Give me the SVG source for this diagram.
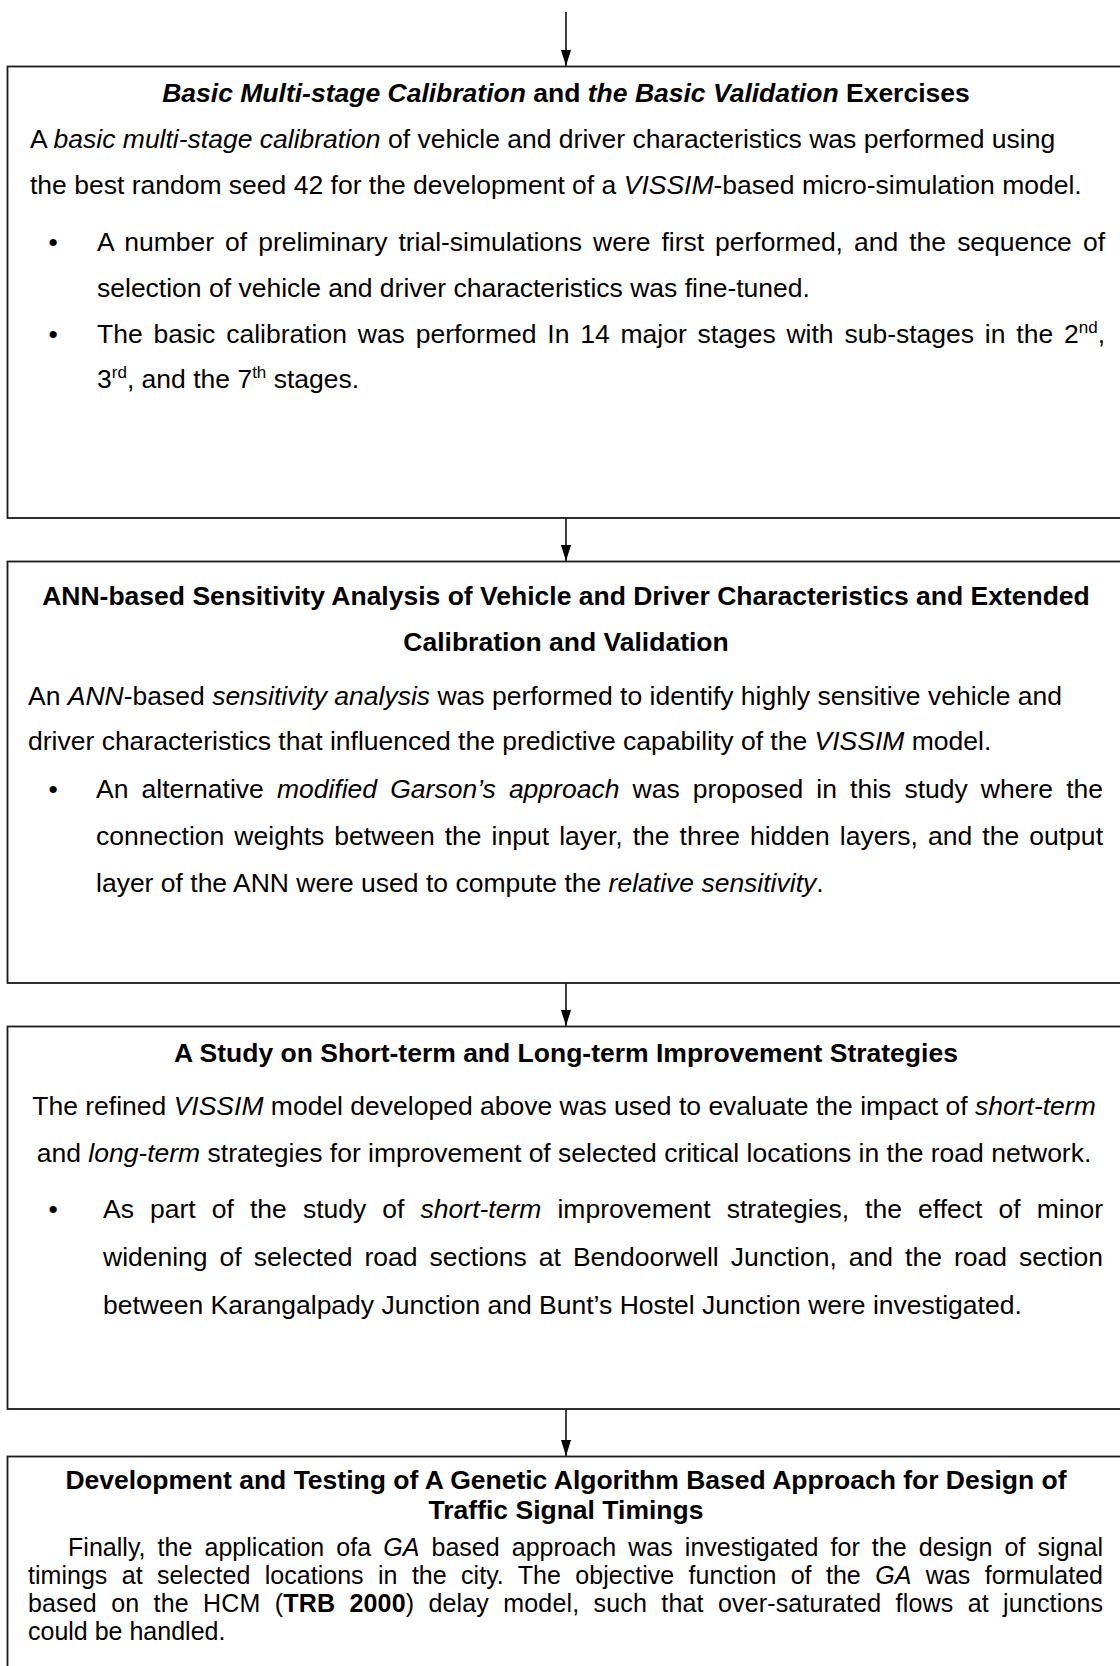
<svg xmlns="http://www.w3.org/2000/svg" width="1120" height="1666" viewBox="0 0 1120 1666">
<style>
text{font-family:"Liberation Sans",Arial,sans-serif;font-size:26.5px;fill:#000}
.t{font-weight:bold;text-anchor:middle}
.c{text-anchor:middle}
.s{font-size:25px}
.i{font-style:italic}
.b{font-weight:bold}
.sup{font-size:17px}
.box{fill:#fff;stroke:#1a1a1a;stroke-width:1.8}
.ln{stroke:#000;stroke-width:1.5;fill:none}
</style>
<defs>
<marker id="ah" viewBox="0 0 16 10" refX="16" refY="5" markerWidth="16" markerHeight="10" orient="auto" markerUnits="userSpaceOnUse"><path d="M0,0 L16,5 L0,10 z" fill="#000"/></marker>
</defs>
<rect width="1120" height="1666" fill="#fff"/>
<g id="connectors">
<line class="ln" x1="566" y1="12" x2="566" y2="66" marker-end="url(#ah)"/>
<line class="ln" x1="566" y1="518" x2="566" y2="561" marker-end="url(#ah)"/>
<line class="ln" x1="566" y1="983" x2="566" y2="1026" marker-end="url(#ah)"/>
<line class="ln" x1="566" y1="1409" x2="566" y2="1456" marker-end="url(#ah)"/>
</g>
<g id="box1">
<rect class="box" x="7.5" y="66.5" width="1130" height="451.5"/>
<text class="t" x="566" y="101.7"><tspan class="i">Basic Multi-stage Calibration</tspan> and <tspan class="i">the Basic Validation</tspan> Exercises</text>
<text x="30" y="147.7">A <tspan class="i">basic multi-stage calibration</tspan> of vehicle and driver characteristics was performed using</text>
<text x="30" y="194">the best random seed 42 for the development of a <tspan class="i">VISSIM</tspan>-based micro-simulation model.</text>
<text x="48.5" y="251">•</text>
<text x="97" y="251" word-spacing="3.77" textLength="1008" lengthAdjust="spacing">A number of preliminary trial-simulations were first performed, and the sequence of</text>
<text x="97" y="297">selection of vehicle and driver characteristics was fine-tuned.</text>
<text x="48.5" y="343">•</text>
<text x="97" y="343" word-spacing="3.46" textLength="1008" lengthAdjust="spacing">The basic calibration was performed In 14 major stages with sub-stages in the 2<tspan class="sup" dy="-10">nd</tspan><tspan dy="10">,</tspan></text>
<text x="97" y="388">3<tspan class="sup" dy="-10">rd</tspan><tspan dy="10">, and the 7</tspan><tspan class="sup" dy="-10">th</tspan><tspan dy="10"> stages.</tspan></text>
</g>
<g id="box2">
<rect class="box" x="7.5" y="561.5" width="1130" height="421.5"/>
<text class="t" x="566" y="605">ANN-based Sensitivity Analysis of Vehicle and Driver Characteristics and Extended</text>
<text class="t" x="566" y="651">Calibration and Validation</text>
<text x="28" y="705">An <tspan class="i">ANN</tspan>-based <tspan class="i">sensitivity analysis</tspan> was performed to identify highly sensitive vehicle and</text>
<text x="28" y="750">driver characteristics that influenced the predictive capability of the <tspan class="i">VISSIM</tspan> model.</text>
<text x="48.5" y="798">•</text>
<text x="96" y="798" word-spacing="5.72" textLength="1007" lengthAdjust="spacing">An alternative <tspan class="i">modified Garson’s approach</tspan> was proposed in this study where the</text>
<text x="96" y="845" word-spacing="2.65" textLength="1007" lengthAdjust="spacing">connection weights between the input layer, the three hidden layers, and the output</text>
<text x="96" y="892">layer of the ANN were used to compute the <tspan class="i">relative sensitivity</tspan>.</text>
</g>
<g id="box3">
<rect class="box" x="7.5" y="1026.5" width="1130" height="382.5"/>
<text class="t" x="566" y="1062">A Study on Short-term and Long-term Improvement Strategies</text>
<text class="c" x="564" y="1115">The refined <tspan class="i">VISSIM</tspan> model developed above was used to evaluate the impact of <tspan class="i">short-term</tspan></text>
<text class="c" x="564" y="1162">and <tspan class="i">long-term</tspan> strategies for improvement of selected critical locations in the road network.</text>
<text x="48.5" y="1218">•</text>
<text x="103" y="1218" word-spacing="8.71" textLength="1000" lengthAdjust="spacing">As part of the study of <tspan class="i">short-term</tspan> improvement strategies, the effect of minor</text>
<text x="103" y="1266" word-spacing="4.67" textLength="1000" lengthAdjust="spacing">widening of selected road sections at Bendoorwell Junction, and the road section</text>
<text x="103" y="1314">between Karangalpady Junction and Bunt’s Hostel Junction were investigated.</text>
</g>
<g id="box4">
<rect class="box" x="7.5" y="1456.5" width="1130" height="230"/>
<text class="t" x="566" y="1489">Development and Testing of A Genetic Algorithm Based Approach for Design of</text>
<text class="t" x="566" y="1519">Traffic Signal Timings</text>
<text class="s" x="68" y="1556" word-spacing="5.1" textLength="1035" lengthAdjust="spacing">Finally, the application ofa <tspan class="i">GA</tspan> based approach was investigated for the design of signal</text>
<text class="s" x="28" y="1584" word-spacing="7.4" textLength="1075" lengthAdjust="spacing">timings at selected locations in the city. The objective function of the <tspan class="i">GA</tspan> was formulated</text>
<text class="s" x="28" y="1612" word-spacing="7.2" textLength="1075" lengthAdjust="spacing">based on the HCM (<tspan class="b">TRB 2000</tspan>) delay model, such that over-saturated flows at junctions</text>
<text class="s" x="28" y="1640">could be handled.</text>
</g>
</svg>
